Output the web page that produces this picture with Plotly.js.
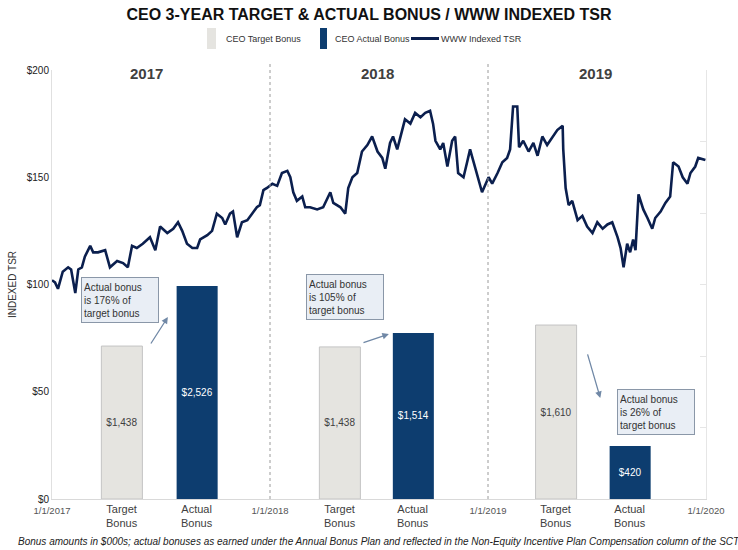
<!DOCTYPE html>
<html>
<head>
<meta charset="utf-8">
<script src="https://cdn.plot.ly/plotly-3.0.1.min.js"></script>
<style>html,body{margin:0;padding:0;background:#fff;}#chart{width:738px;height:550px;}</style>
</head>
<body>
<div id="chart"></div>
<script>
// ---- TSR line ----
const tsrDates = [
"2017-01-01","2017-01-06","2017-01-11","2017-01-19","2017-01-28","2017-02-02","2017-02-09","2017-02-14","2017-02-20","2017-02-25",
"2017-03-06","2017-03-11","2017-03-19","2017-03-31","2017-04-08","2017-04-20","2017-04-30","2017-05-08","2017-05-15","2017-05-23",
"2017-06-02","2017-06-14","2017-06-23","2017-07-01","2017-07-13","2017-07-23","2017-07-31","2017-08-07","2017-08-15","2017-08-24",
"2017-09-01","2017-09-06","2017-09-18","2017-09-26","2017-10-04","2017-10-13","2017-10-18","2017-10-26","2017-10-31","2017-11-07",
"2017-11-15","2017-11-24","2017-12-02","2017-12-10","2017-12-15","2017-12-21","2017-12-27",
"2018-01-05","2018-01-13","2018-01-21","2018-01-30","2018-02-04","2018-02-09","2018-02-15","2018-02-24","2018-03-01","2018-03-09",
"2018-03-21","2018-03-31","2018-04-12","2018-04-17","2018-04-29","2018-05-07","2018-05-12","2018-05-19","2018-05-27","2018-06-04",
"2018-06-13","2018-06-21","2018-06-30","2018-07-08","2018-07-13","2018-07-21","2018-07-26","2018-08-02","2018-08-10","2018-08-15",
"2018-08-24","2018-09-01","2018-09-10","2018-09-18","2018-09-26","2018-10-01","2018-10-05","2018-10-13","2018-10-18","2018-10-25",
"2018-11-02","2018-11-07","2018-11-12","2018-11-21","2018-11-27","2018-12-02","2018-12-07","2018-12-16","2018-12-22",
"2019-01-02","2019-01-08","2019-01-17","2019-01-25","2019-02-02","2019-02-07","2019-02-12","2019-02-19","2019-02-22","2019-03-01",
"2019-03-10","2019-03-18","2019-03-25","2019-04-02","2019-04-10","2019-04-19","2019-04-27","2019-05-06","2019-05-07","2019-05-11",
"2019-05-16","2019-05-22","2019-05-31","2019-06-08","2019-06-16","2019-06-25","2019-07-03","2019-07-12","2019-07-20","2019-07-28",
"2019-08-06","2019-08-11","2019-08-16","2019-08-22","2019-08-27","2019-09-01","2019-09-05","2019-09-10","2019-09-18","2019-09-25",
"2019-10-03","2019-10-08","2019-10-17","2019-10-25","2019-11-02","2019-11-07","2019-11-16","2019-11-23","2019-12-01","2019-12-06",
"2019-12-14","2019-12-19","2019-12-31"
];
const tsrValues = [
102,101,98,106,108,107,96,107,108,113,
118,115,115,116,108,111,110,108,118,117,
119,122,116,127,124,126,129,125,119,117,
117,121,123,125,133,131,128,133,134,122,
129,130,133,136,137,144,145,
147,146,152,153,150,143,139,141,136,136,
135,136,143,138,136,133,145,150,152,162,
165,169,162,159,154,166,169,163,172,177,
175,180,178,180,181,175,167,163,166,155,
167,169,152,150,157,163,158,149,143,
150,147,152,157,159,163,183,183,164,167,
162,166,160,169,165,169,172,174,163,145,
137,139,130,132,127,124,129,126,128,129,
122,117,108,119,115,121,116,142,135,131,
126,131,134,138,141,157,155,150,147,152,
155,159,158
];

// ---- Bonus bars ----
const years = ["2017","2018","2019"];
const targetDates = ["2017-04-28","2018-04-28","2019-04-25"];
const actualDates = ["2017-09-01","2018-08-29","2019-08-27"];
const targetBonus = [1438, 1438, 1610];          // $000s
const actualBonus = [2526, 1514, 420];           // $000s
const targetBarHeight = [71.3, 70.9, 81.1];      // drawn height on index scale
const actualBarHeight = [99.3, 77.4, 24.7];
const pctOfTarget = ["176%","105%","26%"];
const yearLabelDates = ["2017-06-08","2018-06-30","2019-06-30"];
const dateTicks = ["2017-01-01","2018-01-01","2019-01-01","2020-01-01"];
const yTicks = [0,50,100,150,200];
const legendLabels = ["CEO Target Bonus","CEO Actual Bonus","WWW Indexed TSR"];

const FONT = "Liberation Sans, Arial, sans-serif";
const fmt = v => "$" + v.toLocaleString("en-US");
const barWidthMs = 68.7 * 86400000;

const navy = "#0d3d6f";
const lineNavy = "#0b1f4e";
const lightGray = "#e5e4e0";

const traces = [
  {
    type: "bar", name: legendLabels[0],
    x: targetDates, y: targetBarHeight,
    width: barWidthMs,
    marker: {color: lightGray, line: {color: "#c4c4c4", width: 1}},
    text: targetBonus.map(fmt), textposition: "inside", insidetextanchor: "middle",
    textangle: 0, constraintext: "none",
    textfont: {family: FONT, size: 10, color: "#404040"},
    hoverinfo: "skip"
  },
  {
    type: "bar", name: legendLabels[1],
    x: actualDates, y: actualBarHeight,
    width: barWidthMs,
    marker: {color: navy, line: {color: navy, width: 0}},
    text: actualBonus.map(fmt), textposition: "inside", insidetextanchor: "middle",
    textangle: 0, constraintext: "none",
    textfont: {family: FONT, size: 10, color: "#ffffff"},
    hoverinfo: "skip"
  },
  {
    type: "scatter", mode: "lines", name: legendLabels[2],
    x: tsrDates, y: tsrValues,
    line: {color: lineNavy, width: 2.6, shape: "linear"},
    hoverinfo: "skip"
  },
  {
    type: "scatter", mode: "markers", x: [dateTicks[0]], y: [0], yaxis: "y2",
    marker: {opacity: 0}, showlegend: false, hoverinfo: "skip"
  }
];

const annotations = [];
years.forEach((yr, i) => {
  annotations.push({
    xref: "x", yref: "paper", x: yearLabelDates[i], y: 0.993, yanchor: "middle",
    text: "<b>" + yr + "</b>", showarrow: false,
    font: {family: FONT, size: 15, color: "#404040"}
  });
  annotations.push({
    xref: "x", yref: "paper", x: targetDates[i], y: -0.004, yanchor: "top",
    text: "Target<br>Bonus", showarrow: false,
    font: {family: FONT, size: 11, color: "#404040"}
  });
  annotations.push({
    xref: "x", yref: "paper", x: actualDates[i], y: -0.004, yanchor: "top",
    text: "Actual<br>Bonus", showarrow: false,
    font: {family: FONT, size: 11, color: "#404040"}
  });
});

// callout boxes
const boxDates = ["2017-04-25","2018-05-06","2019-10-10"];
const boxY = [92.8, 94.4, 40.6];
pctOfTarget.forEach((p, i) => {
  annotations.push({
    xref: "x", yref: "y", x: boxDates[i], y: boxY[i],
    text: "Actual bonus<br>is " + p + " of<br>target bonus",
    showarrow: false, align: "left", width: 72, height: 40, borderpad: 2,
    bgcolor: "#e9eef5", bordercolor: "#8a97a8", borderwidth: 1,
    font: {family: FONT, size: 10, color: "#333333"}
  });
});
// arrows
const arrowTail = [["2017-06-14",71.8],["2018-06-04",72.7],["2019-06-16",68.1]];
const arrowHead = [["2017-07-14",84.8],["2018-07-19",76.9],["2019-07-08",47.1]];
arrowHead.forEach((h, i) => {
  annotations.push({
    xref: "x", yref: "y", x: h[0], y: h[1],
    axref: "x", ayref: "y", ax: arrowTail[i][0], ay: arrowTail[i][1],
    text: "", showarrow: true, arrowhead: 2, arrowsize: 1, arrowwidth: 1.3,
    arrowcolor: "#7088a6"
  });
});
// footnote
annotations.push({
  xref: "paper", yref: "paper", x: 0.5, y: -0.098, xanchor: "center", yanchor: "middle",
  text: "<i>Bonus amounts in $000s; actual bonuses as earned under the Annual Bonus Plan and reflected in the Non-Equity Incentive Plan Compensation column of the SCT</i>",
  showarrow: false,
  font: {family: FONT, size: 10, color: "#222222"}
});

// ---- hand-built legend (tall swatches as in the reference) ----
const pxX = px => (px - 52) / 654;
const pxY = py => (499 - py) / 429;
const shapes = [dateTicks[1], dateTicks[2]].map(d => ({
  type: "line", xref: "x", yref: "paper", x0: d, x1: d, y0: 0, y1: 1.02,
  line: {color: "#9a9a9a", width: 1, dash: "3px,3px"}
}));
shapes.push({type: "rect", xref: "paper", yref: "paper", x0: pxX(207), x1: pxX(216), y0: pxY(49), y1: pxY(28),
  fillcolor: lightGray, line: {width: 0}});
shapes.push({type: "rect", xref: "paper", yref: "paper", x0: pxX(320), x1: pxX(327), y0: pxY(49), y1: pxY(28),
  fillcolor: navy, line: {width: 0}});
shapes.push({type: "line", xref: "paper", yref: "paper", x0: pxX(411), x1: pxX(439), y0: pxY(38.5), y1: pxY(38.5),
  line: {color: lineNavy, width: 3}});
[[224, legendLabels[0]], [333, legendLabels[1]], [439, legendLabels[2]]].forEach(([px, t]) => {
  annotations.push({xref: "paper", yref: "paper", x: pxX(px), y: pxY(38.5), xanchor: "left", yanchor: "middle",
    text: t, showarrow: false, font: {family: FONT, size: 9, color: "#333"}});
});

const layout = {
  width: 738, height: 550,
  margin: {l: 52, r: 32, t: 70, b: 51},
  paper_bgcolor: "#ffffff", plot_bgcolor: "#ffffff",
  barmode: "overlay",
  font: {family: FONT, color: "#333"},
  title: {
    text: "<b>CEO 3-YEAR TARGET &amp; ACTUAL BONUS / WWW INDEXED TSR</b>",
    x: 0.5, xanchor: "center", xref: "container",
    y: 0.973, yanchor: "middle", yref: "container",
    font: {family: FONT, size: 16, color: "#111"}
  },
  showlegend: false,
  xaxis: {
    type: "date", range: ["2017-01-01","2020-01-01"],
    tickvals: dateTicks, tickformat: "%-m/%-d/%Y",
    ticks: "", showgrid: false, zeroline: false,
    showline: true, linecolor: "#d9d9d9", linewidth: 1,
    ticklabelstandoff: 3,
    tickfont: {family: FONT, size: 9.5, color: "#555"}
  },
  yaxis: {
    range: [0, 200], tickvals: yTicks, ticktext: yTicks.map(v => "$" + v),
    ticks: "", showgrid: false, zeroline: false,
    showline: true, linecolor: "#e0e0e0",
    tickfont: {family: FONT, size: 10, color: "#222"},
    title: {text: "INDEXED TSR", standoff: 8,
      font: {family: FONT, size: 10, color: "#333"}}
  },
  yaxis2: {
    overlaying: "y", side: "right", range: [0, 6], dtick: 1,
    ticks: "inside", ticklen: 6, tickcolor: "#e6e6e6",
    showline: true, linecolor: "#e6e6e6", showticklabels: false,
    showgrid: false, zeroline: false
  },
  annotations: annotations,
  shapes: shapes
};

Plotly.newPlot("chart", traces, layout, {displayModeBar: false, staticPlot: true});
</script>
</body>
</html>
